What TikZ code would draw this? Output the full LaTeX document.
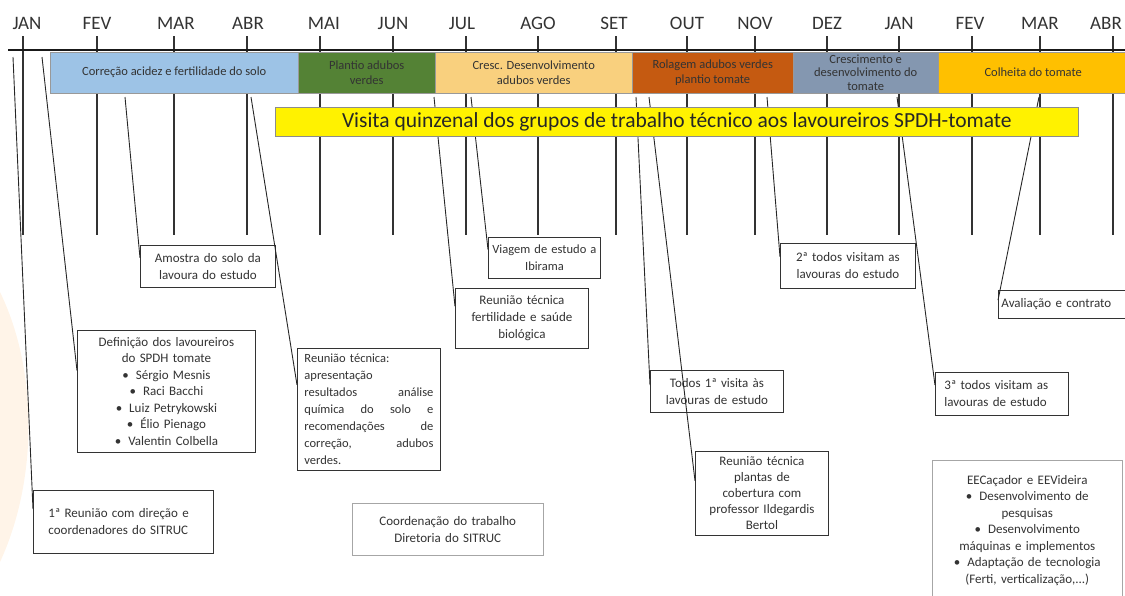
\documentclass[tikz,border=0pt]{standalone}
\usepackage{fontspec}
\setmainfont{Carlito}
\usetikzlibrary{positioning,calc}

\definecolor{barblue}{HTML}{9DC3E6}
\definecolor{bargreen}{HTML}{548235}
\definecolor{barpeach}{HTML}{F9D07E}
\definecolor{barrust}{HTML}{C55A11}
\definecolor{barslate}{HTML}{8497B0}
\definecolor{barorange}{HTML}{FFC000}
\definecolor{bannerline}{HTML}{8C8C8C}

\begin{document}
\begin{tikzpicture}[
    x=1pt, y=-1pt,
    month/.style={font=\fontsize{19}{22}\selectfont, text=black!80, anchor=south},
    tick/.style={line width=1.4pt, black!80},
    bar/.style={rectangle, draw=black!40, anchor=west, minimum height=41pt, align=center, inner sep=1pt, font=\fontsize{12.5}{15.5}\selectfont, text=black!80},
    banner/.style={rectangle, draw=bannerline, line width=0.8pt, fill=yellow, anchor=north west, minimum width=803pt, minimum height=29pt, inner sep=0pt, font=\fontsize{21.5}{23}\selectfont, text=black!85},
    evbox/.style={rectangle, draw=black!80, line width=0.9pt, fill=white, anchor=north west, align=center, inner sep=3pt, font=\fontsize{13}{17}\selectfont, text=black!80},
    infobox/.style={evbox, draw=black!35, line width=0.5pt},
    link/.style={line width=0.9pt, black!85},
]
    \useasboundingbox (0,0) rectangle (1125,595);
    % faint logo shape at the left edge
    \fill[orange!9] (0,292) .. controls (38,370) and (38,480) .. (0,562) -- cycle;

    % months and their lines
    \foreach \mx/\lx/\mname in {23/27/JAN, 97/97/FEV, 174/176/MAR, 247/248/ABR, 320/324/MAI, 393/393/JUN, 466/462/JUL, 538/538/AGO,
                                616/614/SET, 687/687/OUT, 755/755/NOV, 827/827/DEZ, 899/899/JAN, 972/970/FEV, 1040/1040/MAR, 1113/1106/ABR} {
        \draw[tick] (\mx,36) -- (\mx,235);
        \node[month] (mon-\mx) at (\lx,33) {\mname};
    }
    \coordinate (axis-start) at (8,50);
    \coordinate (axis-end) at (1125,50);
    \draw[line width=1.6pt, black!90] (axis-start) -- (axis-end);

    % event boxes
    \node[evbox, align=left, inner xsep=15pt, text width=150pt, minimum height=63pt] (reuniao) at (33,490) {1ª Reunião com direção e\\coordenadores do SITRUC};
    \node[evbox, text width=172pt, minimum height=122pt, font=\fontsize{13}{16.5}\selectfont] (definicao) at (77,330)
        {Definição dos lavoureiros\\do SPDH tomate\\•\hspace{7pt}Sérgio Mesnis\\•\hspace{7pt}Raci Bacchi\\•\hspace{7pt}Luiz Petrykowski\\•\hspace{7pt}Élio Pienago\\•\hspace{7pt}Valentin Colbella};
    \node[evbox, text width=129pt, minimum height=42pt] (amostra) at (140,245) {Amostra do solo da\\lavoura do estudo};
    \node[evbox, align=left, inner xsep=7pt, text width=129pt, minimum height=122pt, font=\fontsize{12.5}{17}\selectfont] (rtsolo) at (297,348)
        {Reunião técnica:\\apresentação\\resultados\hfill análise\\química\hfill do\hfill solo\hfill e\\recomendações\hfill de\\correção,\hfill adubos\\verdes.};
    \node[evbox, text width=127pt, minimum height=60pt] (rtfert) at (455,288) {Reunião técnica\\fertilidade e saúde\\biológica};
    \node[evbox, inner xsep=1pt, text width=110pt, minimum height=41pt, font=\fontsize{12.5}{17}\selectfont] (viagem) at (488,237) {Viagem de estudo a\\Ibirama};
    \node[evbox, text width=127pt, minimum height=42pt] (visita1) at (650,370) {Todos 1ª visita às\\lavouras de estudo};
    \node[evbox, text width=127pt, minimum height=84pt, font=\fontsize{13}{16}\selectfont] (rtplantas) at (695,451)
        {Reunião técnica\\plantas de\\cobertura com\\professor Ildegardis\\Bertol};
    \node[evbox, text width=129pt, minimum height=45pt] (visita2) at (780,243) {2ª todos visitam as\\lavouras do estudo};
    \node[evbox, align=left, inner xsep=9pt, text width=115pt, minimum height=43pt] (visita3) at (935,372) {3ª todos visitam as\\lavouras de estudo};
    \node[evbox, align=left, text width=150pt, minimum height=28pt] (avaliacao) at (998,290) {Avaliação e contrato};
    \node[infobox, text width=185pt, minimum height=52pt] (coordenacao) at (352,503) {Coordenação do trabalho\\Diretoria do SITRUC};
    \node[infobox, text width=184pt, minimum height=140pt, font=\fontsize{13}{16.5}\selectfont] (estacoes) at (932,460)
        {EECaçador e EEVideira\\•\hspace{7pt}Desenvolvimento de\\pesquisas\\•\hspace{7pt}Desenvolvimento\\máquinas e implementos\\•\hspace{7pt}Adaptação de tecnologia\\(Ferti, verticalização,...)};

    % connectors from the time line to the boxes
    \coordinate (s-reuniao) at (13,57);
    \coordinate (s-definicao) at (42,57);
    \coordinate (s-amostra) at (125,97);
    \coordinate (s-rtsolo) at (251,97);
    \coordinate (s-rtfert) at (434,97);
    \coordinate (s-viagem) at (471,97);
    \coordinate (s-visita1) at (636,97);
    \coordinate (s-rtplantas) at (649,97);
    \coordinate (s-visita2) at (767,97);
    \coordinate (s-visita3) at (897,97);
    \coordinate (s-avaliacao) at (1039,97);
    \draw[link] (s-reuniao) -- ($(reuniao.north west)!0.3!(reuniao.south west)$);
    \draw[link] (s-definicao) -- ($(definicao.north west)!0.33!(definicao.south west)$);
    \draw[link] (s-amostra) -- ($(amostra.north west)!0.3!(amostra.south west)$);
    \draw[link] (s-rtsolo) -- ($(rtsolo.north west)!0.3!(rtsolo.south west)$);
    \draw[link] (s-rtfert) -- ($(rtfert.north west)!0.3!(rtfert.south west)$);
    \draw[link] (s-viagem) -- ($(viagem.north west)!0.3!(viagem.south west)$);
    \draw[link] (s-visita1) -- ($(visita1.north west)!0.35!(visita1.south west)$);
    \draw[link] (s-rtplantas) -- ($(rtplantas.north west)!0.35!(rtplantas.south west)$);
    \draw[link] (s-visita2) -- ($(visita2.north west)!0.3!(visita2.south west)$);
    \draw[link] (s-visita3) -- ($(visita3.north west)!0.3!(visita3.south west)$);
    \draw[link] (s-avaliacao) -- ($(avaliacao.north west)!0.35!(avaliacao.south west)$);

    % phase bars
    \node[bar, fill=barblue, minimum width=248pt] (correcao) at (50,72.5) {Correção acidez e fertilidade do solo};
    \node[bar, fill=bargreen, minimum width=137pt] (plantio) at (298,72.5) {Plantio adubos\\verdes};
    \node[bar, fill=barpeach, minimum width=197pt] (cresc) at (435,72.5) {Cresc. Desenvolvimento\\adubos verdes};
    \node[bar, fill=barrust, minimum width=161pt] (rolagem) at (632,72.5) {Rolagem adubos verdes\\plantio tomate};
    \node[bar, fill=barslate, minimum width=145pt, inner ysep=0pt, font=\fontsize{12.5}{13.5}\selectfont] (crescimento) at (793,72.5) {Crescimento e\\desenvolvimento do\\tomate};
    \node[bar, fill=barorange, minimum width=190pt] (colheita) at (938,72.5) {Colheita do tomate};

    % fortnightly visits
    \node[banner] (visitas) at (275,107) {Visita quinzenal dos grupos de trabalho técnico aos lavoureiros SPDH-tomate};
\end{tikzpicture}
\end{document}
